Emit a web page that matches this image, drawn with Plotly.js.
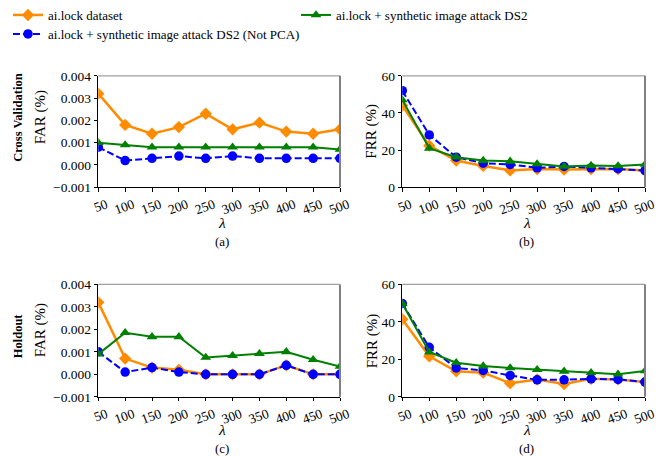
<!DOCTYPE html>
<html>
<head>
<meta charset="utf-8">
<script src="https://cdn.plot.ly/plotly-3.0.1.min.js"></script>
<style>html,body{margin:0;padding:0;background:#fff}#chart{width:668px;height:457px}</style>
</head>
<body>
<div id="chart"></div>
<script>
// ---- data ----
const lambdas = [50, 100, 150, 200, 250, 300, 350, 400, 450, 500];
const seriesNames = ["ai.lock dataset", "ai.lock + synthetic image attack DS2 (Not PCA)", "ai.lock + synthetic image attack DS2"];

// (a) Cross Validation FAR (%)
const cvFarDataset = [0.0032, 0.0018, 0.0014, 0.0017, 0.0023, 0.0016, 0.0019, 0.0015, 0.0014, 0.0016];
const cvFarNotPCA  = [0.0008, 0.0002, 0.0003, 0.0004, 0.0003, 0.0004, 0.0003, 0.0003, 0.0003, 0.0003];
const cvFarDS2     = [0.0010, 0.0009, 0.0008, 0.0008, 0.0008, 0.0008, 0.0008, 0.0008, 0.0008, 0.0007];

// (b) Cross Validation FRR (%)
const cvFrrDataset = [44, 22.4, 14.4, 11.5, 9.1, 9.8, 9.6, 9.8, 9.8, 9.0];
const cvFrrNotPCA  = [52, 28.2, 16.2, 13.0, 12.3, 10.5, 11.2, 10.5, 10.0, 9.0];
const cvFrrDS2     = [47, 21.0, 16.2, 14.4, 14.0, 12.6, 11.2, 11.7, 11.5, 12.3];

// (c) Holdout FAR (%)
const hoFarDataset = [0.0032, 0.0007, 0.0003, 0.0002, 0.0000, 0.0000, 0.0000, 0.0004, 0.0000, 0.0000];
const hoFarNotPCA  = [0.0010, 0.0001, 0.0003, 0.0001, 0.0000, 0.0000, 0.0000, 0.0004, 0.0000, 0.0000];
const hoFarDS2     = [0.0009, 0.00185, 0.00167, 0.00167, 0.00075, 0.00083, 0.00092, 0.0010, 0.00065, 0.00035];

// (d) Holdout FRR (%)
const hoFrrDataset = [41.4, 21.6, 13.6, 12.9, 7.3, 9.3, 6.8, 9.6, 9.3, 7.9];
const hoFrrNotPCA  = [49.8, 26.4, 15.4, 14.1, 11.4, 9.1, 9.1, 9.6, 9.3, 7.9];
const hoFrrDS2     = [49.8, 23.9, 18.2, 16.4, 15.4, 14.5, 13.6, 12.9, 12.1, 13.8];

const farTicks = [-0.001, 0, 0.001, 0.002, 0.003, 0.004];
const frrTicks = [0, 20, 40, 60];
const panelLabels = ["(a)", "(b)", "(c)", "(d)"];
const rowLabels = ["Cross Validation", "Holdout"];

// ---- styles ----
const FONT = "Liberation Serif, Times New Roman, serif";
const styles = [
  {color: "#ff8c00", symbol: "diamond", dash: "solid", width: 2.5, size: 9.5, rank: 1, legend: "legend"},
  {color: "#0000ff", symbol: "circle", dash: "7px,3px", width: 2, size: 9.5, rank: 3, legend: "legend2"},
  {color: "#008000", symbol: "triangle-up", dash: "solid", width: 2, size: 9.5, rank: 2, legend: "legend"}
];

const panels = [
  {xa: "x", ya: "y", data: [cvFarDataset, cvFarNotPCA, cvFarDS2], legend: true},
  {xa: "x2", ya: "y2", data: [cvFrrDataset, cvFrrNotPCA, cvFrrDS2], legend: false},
  {xa: "x3", ya: "y3", data: [hoFarDataset, hoFarNotPCA, hoFarDS2], legend: false},
  {xa: "x4", ya: "y4", data: [hoFrrDataset, hoFrrNotPCA, hoFrrDS2], legend: false}
];

const traces = [];
panels.forEach(p => {
  p.data.forEach((ys, i) => {
    const s = styles[i];
    traces.push({
      x: lambdas, y: ys, xaxis: p.xa, yaxis: p.ya,
      type: "scatter", mode: "lines+markers",
      name: seriesNames[i], showlegend: p.legend, legendrank: s.rank, legend: s.legend,
      line: {color: s.color, width: s.width, dash: s.dash},
      marker: {color: s.color, symbol: s.symbol, size: s.size, line: {width: 0}},
      cliponaxis: true
    });
  });
});

const W = 668, H = 457;
const colX = [[98.3 / W, 340 / W], [402.3 / W, 645 / W]];
const rowY = [[1 - 186.7 / H, 1 - 75 / H], [1 - 396.7 / H, 1 - 284 / H]];

function xaxis(dom, anchor) {
  return {
    domain: dom, anchor: anchor, range: [50, 500], tickvals: lambdas,
    ticktext: lambdas.map(String), tickangle: -20, ticklabelshift: 8,
    ticks: "outside", ticklen: 3.5, tickwidth: 1, tickcolor: "#000",
    showline: true, linecolor: "#000", linewidth: 1, mirror: false,
    showgrid: false, zeroline: false, fixedrange: true,
    tickfont: {family: FONT, size: 13.5, color: "#000"}
  };
}
function yaxis(dom, anchor, far) {
  const t = far ? farTicks : frrTicks;
  return {
    domain: dom, anchor: anchor, range: [t[0], t[t.length - 1]], tickvals: t,
    tickformat: far ? ".3f" : "d",
    ticks: "outside", ticklen: 3.5, tickwidth: 1, tickcolor: "#000",
    showline: true, linecolor: "#000", linewidth: 1, mirror: false,
    showgrid: false, zeroline: false, fixedrange: true,
    tickfont: {family: FONT, size: 13.5, color: "#000"}
  };
}

const shapes = [];
[["x", "y"], ["x2", "y2"], ["x3", "y3"], ["x4", "y4"]].forEach(([xa, ya]) => {
  shapes.push({type: "line", xref: xa + " domain", yref: ya + " domain", x0: 0, x1: 1, y0: 1, y1: 1, line: {color: "#a0a0a0", width: 1.2}});
  shapes.push({type: "line", xref: xa + " domain", yref: ya + " domain", x0: 1, x1: 1, y0: 0, y1: 1, line: {color: "#808080", width: 2}});
});

const annotations = [];
function ann(text, x, y, opts) {
  annotations.push(Object.assign({text: text, x: x, y: y, xref: "paper", yref: "paper", showarrow: false,
    xanchor: "center", yanchor: "middle", borderpad: 0, font: {family: FONT, size: 15, color: "#000"}}, opts || {}));
}
// row labels
ann("<b>" + rowLabels[0] + "</b>", 18 / W, 1 - 117 / H, {textangle: -90, font: {family: FONT, size: 12.5, color: "#000"}});
ann("<b>" + rowLabels[1] + "</b>", 18 / W, 1 - 336 / H, {textangle: -90, font: {family: FONT, size: 12.5, color: "#000"}});
// y titles
ann("FAR (%)", 40 / W, 1 - 116.5 / H, {textangle: -90});
ann("FAR (%)", 40 / W, 1 - 330 / H, {textangle: -90});
ann("FRR (%)", 372 / W, 1 - 130 / H, {textangle: -90});
ann("FRR (%)", 372 / W, 1 - 340 / H, {textangle: -90});
// lambda & panel labels
const lamY = [1 - 221.5 / H, 1 - 429 / H];
const capY = [1 - 241 / H, 1 - 448 / H];
for (let r = 0; r < 2; r++) {
  for (let c = 0; c < 2; c++) {
    const cx = (colX[c][0] + colX[c][1]) / 2 + 3 / W;
    ann("<i>λ</i>", cx, lamY[r], {font: {family: FONT, size: 15.5, color: "#000"}});
    ann(panelLabels[r * 2 + c], cx, capY[r], {font: {family: FONT, size: 13, color: "#000"}});
  }
}

const legendBase = {
  orientation: "h", xanchor: "left", yanchor: "middle", traceorder: "normal",
  font: {family: FONT, size: 13, color: "#000"}, bgcolor: "rgba(0,0,0,0)",
  itemwidth: 30, tracegroupgap: 0
};

const layout = {
  width: W, height: H,
  margin: {l: 0, r: 0, t: 0, b: 0, pad: 0},
  paper_bgcolor: "#fff", plot_bgcolor: "#fff",
  font: {family: FONT, color: "#000"},
  showlegend: true,
  legend: Object.assign({}, legendBase, {x: 8 / W, y: 1 - 14.5 / H, entrywidth: 243, entrywidthmode: "pixels"}),
  legend2: Object.assign({}, legendBase, {x: 8 / W, y: 1 - 34 / H}),
  xaxis: xaxis(colX[0], "y"), yaxis: yaxis(rowY[0], "x", true),
  xaxis2: xaxis(colX[1], "y2"), yaxis2: yaxis(rowY[0], "x2", false),
  xaxis3: xaxis(colX[0], "y3"), yaxis3: yaxis(rowY[1], "x3", true),
  xaxis4: xaxis(colX[1], "y4"), yaxis4: yaxis(rowY[1], "x4", false),
  shapes: shapes, annotations: annotations
};

Plotly.newPlot("chart", traces, layout, {staticPlot: true, displayModeBar: false});
</script>
</body>
</html>
